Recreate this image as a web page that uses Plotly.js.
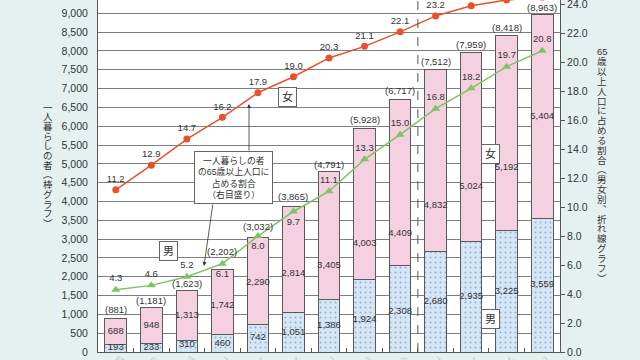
<!DOCTYPE html>
<html><head><meta charset="utf-8">
<script src="https://cdn.plot.ly/plotly-3.0.1.min.js"></script>
<style>html,body{margin:0;padding:0;overflow:hidden;background:#e5f1f0;}#chart{width:640px;height:360px;}</style>
</head><body><div id="chart"></div>
<script>
// ---- data ----
const categories = ['昭和55年<br>(1980)','60<br>(1985)','平成2<br>(1990)','7<br>(1995)','12<br>(2000)','17<br>(2005)','22<br>(2010)','27<br>(2015)','令和2<br>(2020)','7<br>(2025)','12<br>(2030)','17<br>(2035)','22<br>(2040)'];
const maleCount   = [193, 233, 310, 460, 742, 1051, 1386, 1924, 2308, 2680, 2935, 3225, 3559];
const femaleCount = [688, 948, 1313, 1742, 2290, 2814, 3405, 4003, 4409, 4832, 5024, 5192, 5404];
const totalCount  = [881, 1181, 1623, 2202, 3032, 3865, 4791, 5928, 6717, 7512, 7959, 8418, 8963];
const malePct     = [4.3, 4.6, 5.2, 6.1, 8.0, 9.7, 11.1, 13.3, 15.0, 16.8, 18.2, 19.7, 20.8];
const femalePct   = [11.2, 12.9, 14.7, 16.2, 17.9, 19.0, 20.3, 21.1, 22.1, 23.2, 23.9, 24.3, 24.5];
// label placement (fraction of segment height / pixel lift above bar top)
const maleLabelFrac   = [0.6, 0.5, 0.6, 0.5, 0.53, 0.5, 0.5, 0.45, 0.46, 0.5, 0.5, 0.5, 0.5];
const femaleLabelFrac = [0.5, 0.49, 0.49, 0.45, 0.48, 0.37, 0.27, 0.24, 0.19, 0.25, 0.29, 0.32, 0.5];
const totalLabelLiftPx = [9.5, 7.5, 7, 18, 11, 10.5, 7.5, 9.5, 9, 7.6, 8, 8, 7.4];
const malePctTextPos  = ['top center','top center','top center','bottom center','bottom center','bottom center','top center','top center','top center','top center','top center','top center','top center'];

const fmt = v => v.toLocaleString('en-US');
const FONT = 'Liberation Sans, Noto Sans CJK JP, sans-serif';
const TXT = '#333';

const traces = [
  {type:'bar', name:'男', x:categories, y:maleCount, hoverinfo:'skip',
   marker:{color:'#d6e6f5', line:{color:'#5a5a5a', width:1},
           pattern:{shape:'.', fgcolor:'#8fb2dc', bgcolor:'#d6e6f5', size:5, solidity:0.12}}},
  {type:'bar', name:'女', x:categories, y:femaleCount, hoverinfo:'skip',
   marker:{color:'#f5d0e1', line:{color:'#5a5a5a', width:1}}},
  {type:'scatter', mode:'text', x:categories, y:maleCount.map((m,i)=>m*maleLabelFrac[i]),
   text:maleCount.map(fmt), textfont:{size:9.5, color:TXT, family:FONT}, hoverinfo:'skip'},
  {type:'scatter', mode:'text', x:categories, y:femaleCount.map((f,i)=>maleCount[i]+f*femaleLabelFrac[i]),
   text:femaleCount.map(fmt), textfont:{size:9.5, color:TXT, family:FONT}, hoverinfo:'skip'},
  {type:'scatter', mode:'lines+markers+text', x:categories, y:femalePct, yaxis:'y2',
   line:{color:'#e8512a', width:1.5}, marker:{symbol:'circle', size:7, color:'#e8512a'},
   text:femalePct.map(v=>v.toFixed(1)), textposition:'top center',
   textfont:{size:9.5, color:TXT, family:FONT}, hoverinfo:'skip'},
  {type:'scatter', mode:'lines+markers+text', x:categories, y:malePct, yaxis:'y2',
   line:{color:'#7ec463', width:1.5}, marker:{symbol:'triangle-up', size:8, color:'#7ec463'},
   text:malePct.map(v=>v.toFixed(1)), textposition:malePctTextPos,
   textfont:{size:9.5, color:TXT, family:FONT}, hoverinfo:'skip'}
];

// plot area geometry in pixels (for placing annotation text)
const L = 98, R = 80, T = 0, B = 8, W = 640 - L - R, H = 360 - T - B;
const px = x => (x - L) / W;
const py = y => (H + T - y) / H;

const annotations = [];
// total labels above bars
totalCount.forEach((v,i)=>annotations.push({text:'('+fmt(v)+')', xref:'x', yref:'y', x:categories[i], y:v,
  xanchor:'center', yanchor:'middle', yshift:totalLabelLiftPx[i], showarrow:false,
  font:{size:9.5, color:TXT, family:FONT}}));

const boxAnn = (t, x, y) => ({text:t, xref:'paper', yref:'paper', x:px(x), y:py(y), xanchor:'center', yanchor:'middle', showarrow:false,
  font:{size:11, color:TXT, family:FONT}, bgcolor:'#fff', bordercolor:'#666', borderwidth:1, borderpad:3});
annotations.push(boxAnn('女', 287, 97));
annotations.push(boxAnn('男', 168, 251));
annotations.push(boxAnn('女', 490, 154));
annotations.push(boxAnn('男', 490, 319));
annotations.push({text:'一人暮らしの者<br>の65歳以上人口に<br>占める割合<br>（右目盛り）', xref:'paper', yref:'paper',
  x:px(233), y:py(177.5), xanchor:'center', yanchor:'middle', showarrow:false, align:'center',
  font:{size:8.8, color:TXT, family:FONT}, bgcolor:'#fff', bordercolor:'#666', borderwidth:1, borderpad:3});
annotations.push({text:'', xref:'paper', yref:'paper', x:px(249), y:py(104), ax:0, ay:48,
  showarrow:true, arrowhead:2, arrowsize:1, arrowwidth:0.8, arrowcolor:'#333'});
annotations.push({text:'', xref:'paper', yref:'paper', x:px(204), y:py(266), ax:9, ay:-63,
  showarrow:true, arrowhead:2, arrowsize:1, arrowwidth:0.8, arrowcolor:'#333'});

// vertical axis titles, one character per line
const charAnn = (c, x, y) => ({text:c, xref:'paper', yref:'paper', x:px(x), y:py(y), xanchor:'center', yanchor:'middle',
  showarrow:false, font:{size:9.5, color:TXT, family:FONT}});
const leftTitle = ['一','人','暮','ら','し','の','者','︵','棒','グ','ラ','フ','︶'];
leftTitle.forEach((c,i)=>annotations.push(charAnn(c, 48, 107 + i*9.7)));
const rightTitle = ['65','歳','以','上','人','口','に','占','め','る','割','合','︵','男','女','別','︑','折','れ','線','グ','ラ','フ','︶'];
rightTitle.forEach((c,i)=>annotations.push(charAnn(c, 602, 52 + i*9.83)));

const layout = {
  width:640, height:360, margin:{l:L, r:R, t:T, b:B},
  paper_bgcolor:'#e5f1f0', plot_bgcolor:'#ffffff',
  barmode:'stack', bargap:0.39, showlegend:false,
  font:{family:FONT, color:TXT, size:10.5},
  xaxis:{type:'category', range:[-0.5, 12.5], tickson:'boundaries', ticks:'inside', ticklen:4, tickcolor:'#555',
         showline:true, linecolor:'#555', linewidth:1, showgrid:false, automargin:false,
         ticklabeloverflow:'allow', ticklabelstandoff:-2, tickfont:{size:10, color:'#c4cccc'}},
  yaxis:{range:[0, 9354], dtick:500, tickformat:',', showgrid:true, gridcolor:'#7f7f7f', gridwidth:1,
         showline:true, linecolor:'#555', linewidth:1, zeroline:false, ticks:'', ticklabelstandoff:7,
         ticklabeloverflow:'allow', automargin:false, tickfont:{size:10.5, color:TXT}},
  yaxis2:{overlaying:'y', side:'right', range:[0, 24.3], dtick:2, tickformat:'.1f', showgrid:false,
          showline:true, linecolor:'#555', linewidth:1, zeroline:false, ticks:'outside', ticklen:4, tickcolor:'#555',
          ticklabeloverflow:'allow', automargin:false, tickfont:{size:10.5, color:TXT}},
  shapes:[{type:'line', xref:'x', yref:'paper', x0:8.5, x1:8.5, y0:0, y1:1,
           line:{color:'#555', width:1, dash:'dash'}}],
  annotations:annotations
};

Plotly.newPlot('chart', traces, layout, {staticPlot:true, displayModeBar:false});
</script>
</body></html>
